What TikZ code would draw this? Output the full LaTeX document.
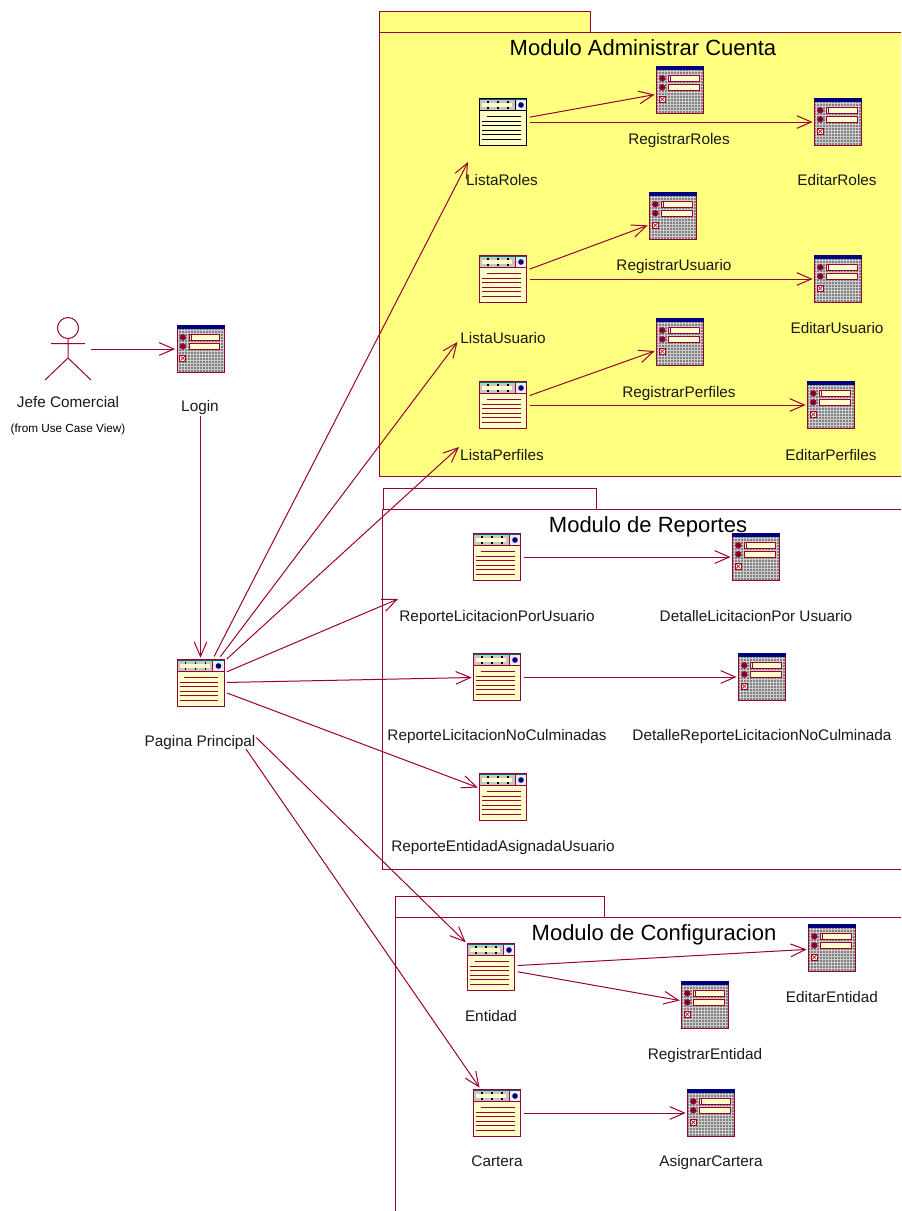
\documentclass[tikz,border=0pt]{standalone}
\usepackage{fontspec}
\setmainfont{Liberation Sans}
\usepackage{tikz}
\usetikzlibrary{arrows.meta}
\definecolor{rosered}{HTML}{990033}
\definecolor{pkgyellow}{HTML}{FFFF80}
\definecolor{cream}{HTML}{FFFFCC}
\definecolor{navybar}{HTML}{000080}
\definecolor{tealbar}{HTML}{006666}
\tikzset{
  % form icon, 48 by 48
  formglyph/.pic={
    \begin{scope}[shift={(-24,-24)}]
      \fill[gray] (0,0) rectangle (48,48);
      \foreach \g in {2,5,...,47} {
        \draw[gray!40,line width=.45pt] (\g,4) -- (\g,47.5);
        \draw[gray!40,line width=.45pt] (0,\g) -- (48,\g);
      }
      \draw[rosered] (.5,3) -- (.5,47.5) -- (47.5,47.5) -- (47.5,3);
      \fill[navybar] (0,0) rectangle (48,4);
      \foreach \r in {12.3,21.3} {
        \fill[rosered] (6.3,\r) circle (3.2);
        \fill[rosered!60!black] (6.3,\r) circle (1.4);
        \draw[rosered,fill=cream] (12.5,\r-3) rectangle (43,\r+3);
      }
      \draw[rosered] (14.5,9.3) -- (14.5,15.3);
      \draw[rosered,fill=cream] (3.3,30.3) rectangle (9.3,36.3);
      \draw[rosered,line width=.5pt] (4.3,31.3) -- (8.3,35.3) (8.3,31.3) -- (4.3,35.3);
    \end{scope}
  },
  % page icon, the value is the colour of its lines
  pageglyph/.pic={
    \begin{scope}[shift={(-24,-24)}]
      \fill[cream] (0,0) rectangle (48,48);
      \fill[gray!45] (0,0) rectangle (36,12);
      \fill[white!85!gray] (36,0) rectangle (48,12);
      \fill[tealbar] (0,0) rectangle (48,2);
      \fill[cream] (3,5) rectangle (33,8.5);
      \foreach \t in {9,19,29} {
        \draw[black,line width=1pt] (\t,3) -- (\t,5) (\t,8.5) -- (\t,11);
      }
      \fill[navybar] (42,7) circle (2.8);
      \draw[#1] (36,2) -- (36,12) (0,12) -- (48,12);
      \draw[#1] (7.7,18.3) -- (41.7,18.3);
      \foreach \l in {23,27.3,32,36.3,41} {
        \draw[#1] (3.3,\l) -- (41.7,\l);
      }
      \draw[#1] (.5,.5) rectangle (47.5,47.5);
    \end{scope}
  }
}
\def\FormIcon#1#2{\node[icon] (#1) at (#2) {}; \pic at (#1) {formglyph};}
\def\PageIcon#1#2{\node[icon] (#1) at (#2) {}; \pic at (#1) {pageglyph=rosered};}
\begin{document}
\begin{tikzpicture}[x=.75pt,y=-.75pt,line width=.75pt,
    lab/.style={font=\fontsize{11.5}{13}\selectfont,text=black!90,inner sep=0pt,text height=8.2pt,text depth=0pt},
    title/.style={font=\fontsize{16.5}{19}\selectfont,inner sep=0pt,text height=12pt,text depth=0pt},
    pkg/.style={draw=rosered},
    icon/.style={rectangle,minimum size=36pt,inner sep=0pt,outer sep=1pt},
    link/.style={rosered,shorten <=1pt,-{Straight Barb[length=11pt,width=9.5pt]}}]
  \path[use as bounding box,clip] (0,0) rectangle (901,1211);

  % packages
  \fill[pkgyellow] (379,11) rectangle (590,32) (379,32) rectangle (901,476);
  \draw[pkg] (379,32) |- (590,11) -- (590,32);
  \draw[pkg] (901,32) -- (379,32) -- (379,476) -- (901,476);
  \draw[pkg] (383,509) |- (596,488) -- (596,509);
  \draw[pkg] (901,509) -- (382,509) -- (382,869) -- (901,869);
  \draw[pkg] (395,917) |- (604,896) -- (604,917);
  \draw[pkg] (901,917) -- (395,917) -- (395,1211);
  \node[title] (mcuenta) at (643,47) {Modulo Administrar Cuenta};
  \node[title] (mreportes) at (648,524) {Modulo de Reportes};
  \node[title] (mconfig) at (654,932) {Modulo de Configuracion};

  % actor
  \coordinate (jefefoot) at (90,349);
  \draw[rosered] (68,328) circle (10.5);
  \draw[rosered] (68,338.5) -- (68,358) (51,343.5) -- (85,343.5) (45,380) -- (68,358) -- (91,380);
  \node[lab] (jefelab) at (68,402) {Jefe Comercial};
  \node[font=\fontsize{8.8}{9}\selectfont,inner sep=0pt] (jefefrom) at (68,429) {(from Use Case View)};

  \FormIcon{login}{200.5,349}
  \node[lab] (loginlab) at (200,406.5) {Login};
  \PageIcon{pagina}{200.5,683}
  \node[lab] (paginalab) at (200,741) {Pagina Principal};

  % administrar cuenta
  \node[icon] (lroles) at (503,122) {};
  \pic at (lroles) {pageglyph=black};
  \node[lab] (lroleslab) at (502,180) {ListaRoles};
  \FormIcon{rroles}{680,90}
  \node[lab] (rroleslab) at (679,139) {RegistrarRoles};
  \FormIcon{eroles}{838,122}
  \node[lab] (eroleslab) at (837,180) {EditarRoles};
  \PageIcon{lusuario}{503,279}
  \node[lab] (lusuariolab) at (503,338) {ListaUsuario};
  \FormIcon{rusuario}{673,216}
  \node[lab] (rusuariolab) at (674,265) {RegistrarUsuario};
  \FormIcon{eusuario}{838,279}
  \node[lab] (eusuariolab) at (837,328) {EditarUsuario};
  \PageIcon{lperfiles}{503,405}
  \node[lab] (lperfileslab) at (502,455) {ListaPerfiles};
  \FormIcon{rperfiles}{680,342}
  \node[lab] (rperfileslab) at (679,392) {RegistrarPerfiles};
  \FormIcon{eperfiles}{831,405}
  \node[lab] (eperfileslab) at (831,455) {EditarPerfiles};

  % reportes
  \PageIcon{rpusuario}{497,557}
  \node[lab] (rpusuariolab) at (497,616) {ReporteLicitacionPorUsuario};
  \FormIcon{dpusuario}{756,557}
  \node[lab] (dpusuariolab) at (756,616) {DetalleLicitacionPor Usuario};
  \PageIcon{rnoculm}{497,677}
  \node[lab] (rnoculmlab) at (497,735) {ReporteLicitacionNoCulminadas};
  \FormIcon{dnoculm}{762,677}
  \node[lab] (dnoculmlab) at (762,735) {DetalleReporteLicitacionNoCulminada};
  \PageIcon{rentidad}{503,797}
  \node[lab] (rentidadlab) at (503,846) {ReporteEntidadAsignadaUsuario};

  % configuracion
  \PageIcon{entidad}{491,967}
  \node[lab] (entidadlab) at (491,1016) {Entidad};
  \FormIcon{eentidad}{832,948}
  \node[lab] (eentidadlab) at (832,997) {EditarEntidad};
  \FormIcon{regentidad}{705,1005}
  \node[lab] (regentidadlab) at (705,1054) {RegistrarEntidad};
  \PageIcon{cartera}{497,1113}
  \node[lab] (carteralab) at (497,1161) {Cartera};
  \FormIcon{acartera}{711,1113}
  \node[lab] (acarteralab) at (711,1161) {AsignarCartera};

  % free ends beside the labels
  \coordinate (tolroles) at (468,162);
  \coordinate (tolusuario) at (457.5,342);
  \coordinate (tolperfiles) at (459,447);
  \coordinate (torpusuario) at (398,599);

  \draw[link] (jefefoot) -- (login);
  \draw[link,shorten <=31pt] (login) -- (pagina);
  \draw[link] (pagina) -- (tolroles);
  \draw[link] (pagina) -- (tolusuario);
  \draw[link] (pagina) -- (tolperfiles);
  \draw[link] (pagina) -- (torpusuario);
  \draw[link] (pagina) -- (rnoculm);
  \draw[link] (pagina) -- (rentidad);
  \draw[link,shorten <=32pt] (pagina) -- (entidad);
  \draw[link,shorten <=37pt] (pagina) -- (cartera);

  \draw[link] (lroles) -- (rroles);
  \draw[link] (lroles) -- (eroles);
  \draw[link] (lusuario) -- (rusuario);
  \draw[link] (lusuario) -- (eusuario);
  \draw[link] (lperfiles) -- (rperfiles);
  \draw[link] (lperfiles) -- (eperfiles);
  \draw[link] (rpusuario) -- (dpusuario);
  \draw[link] (rnoculm) -- (dnoculm);
  \draw[link] (entidad) -- (eentidad);
  \draw[link] (entidad) -- (regentidad);
  \draw[link] (cartera) -- (acartera);
\end{tikzpicture}
\end{document}
